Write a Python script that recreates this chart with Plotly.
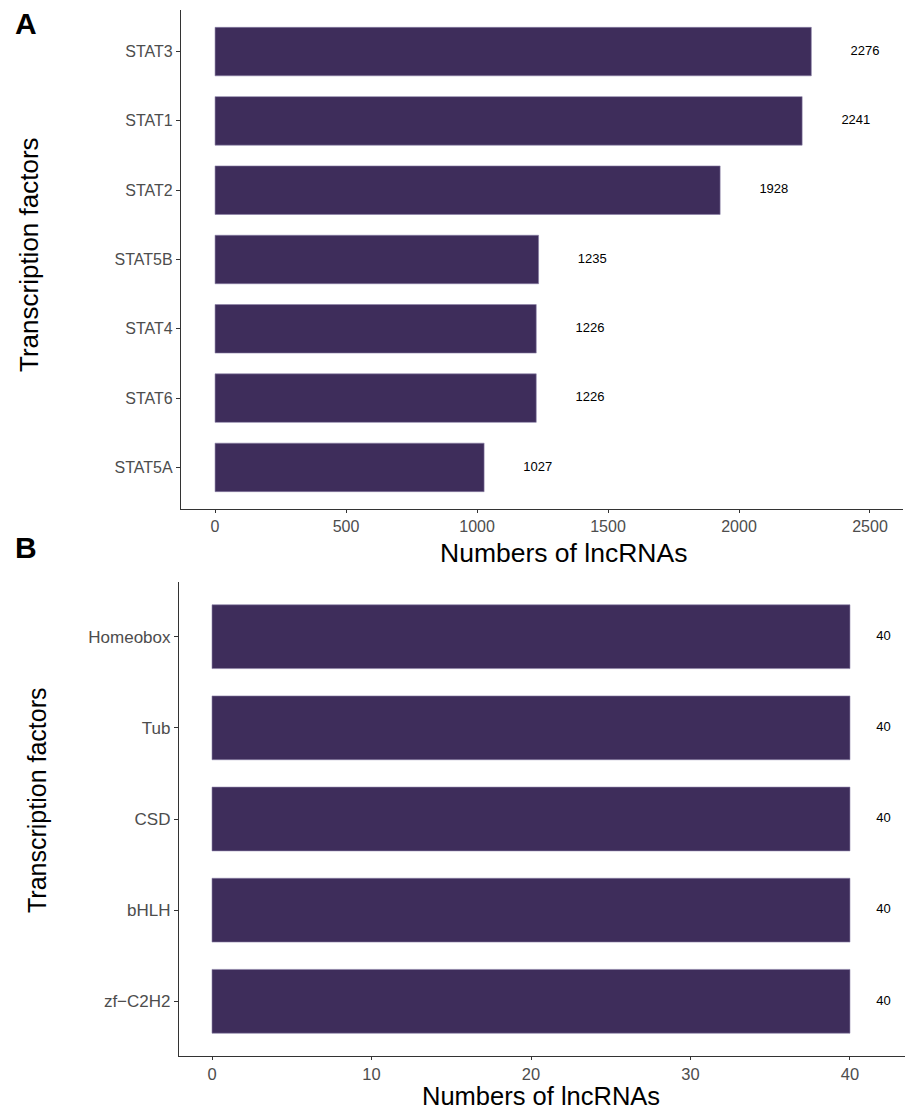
import plotly.graph_objects as go

# Data
stat_names = ["STAT3", "STAT1", "STAT2", "STAT5B", "STAT4", "STAT6", "STAT5A"]
stat_values = [2276, 2241, 1928, 1235, 1226, 1226, 1027]
fam_names = ["Homeobox", "Tub", "CSD", "bHLH", "zf\u2212C2H2"]
fam_values = [40, 40, 40, 40, 40]
top_ticks = [0, 500, 1000, 1500, 2000, 2500]
bot_ticks = [0, 10, 20, 30, 40]

W, H = 909, 1111
BAR = "#3e2d5b"
FONT = "Arial, Liberation Sans, sans-serif"
TICKC = "#4d4d4d"

def px_x(p):
    return p / W

def px_y(p):
    return 1 - p / H

fig = go.Figure()

fig.add_trace(go.Bar(
    x=stat_values, y=stat_names, orientation="h", width=0.7,
    marker=dict(color=BAR, line=dict(color="#8a7fa6", width=0.6)),
    xaxis="x", yaxis="y", showlegend=False, hoverinfo="skip"))
fig.add_trace(go.Scatter(
    x=[v + 205 for v in stat_values], y=stat_names, mode="text",
    text=[str(v) for v in stat_values],
    textfont=dict(family=FONT, size=13, color="black"),
    xaxis="x", yaxis="y", showlegend=False, hoverinfo="skip"))

fig.add_trace(go.Bar(
    x=fam_values, y=fam_names, orientation="h", width=0.7,
    marker=dict(color=BAR, line=dict(color="#8a7fa6", width=0.6)),
    xaxis="x2", yaxis="y2", showlegend=False, hoverinfo="skip"))
fig.add_trace(go.Scatter(
    x=[v + 2.1 for v in fam_values], y=fam_names, mode="text",
    text=[str(v) for v in fam_values],
    textfont=dict(family=FONT, size=13, color="black"),
    xaxis="x2", yaxis="y2", showlegend=False, hoverinfo="skip"))

def axis_common(fs, tl=4):
    return dict(showgrid=False, zeroline=False, showline=True,
                linecolor="#333333", linewidth=1.2, ticks="outside",
                ticklen=tl, tickcolor="#333333", tickwidth=1,
                tickfont=dict(family=FONT, size=fs, color=TICKC))

fig.update_layout(
    width=W, height=H,
    margin=dict(l=0, r=0, t=0, b=0),
    plot_bgcolor="white", paper_bgcolor="white",
    xaxis=dict(domain=[px_x(181), px_x(903)], range=[-130, 2626],
               tickvals=top_ticks, anchor="y", **axis_common(16, 3)),
    yaxis=dict(domain=[px_y(509), px_y(10)], range=[6.6, -0.6],
               categoryorder="array", categoryarray=stat_names,
               anchor="x", **axis_common(16)),
    xaxis2=dict(domain=[px_x(179), px_x(905)], range=[-2.07, 43.45],
                tickvals=bot_ticks, anchor="y2", **axis_common(16.5, 3)),
    yaxis2=dict(domain=[px_y(1056), px_y(582)], range=[4.6, -0.6],
                categoryorder="array", categoryarray=fam_names,
                anchor="x2", **axis_common(17)),
    bargap=0.3,
)

annots = [
    dict(text="<b>A</b>", x=px_x(26), y=px_y(24), size=30, angle=0, ya="middle"),
    dict(text="<b>B</b>", x=px_x(26), y=px_y(547), size=30, angle=0, ya="middle"),
    dict(text="Numbers of lncRNAs", x=px_x(563), y=px_y(553), size=26.5, angle=0, ya="middle"),
    dict(text="Numbers of lncRNAs", x=px_x(541), y=0.0, size=25.5, angle=0, ya="bottom"),
    dict(text="Transcription factors", x=px_x(29), y=px_y(255), size=26, angle=-90, ya="middle"),
    dict(text="Transcription factors", x=px_x(37), y=px_y(800), size=25, angle=-90, ya="middle"),
]
for a in annots:
    fig.add_annotation(text=a["text"], x=a["x"], y=a["y"], xref="paper", yref="paper",
                       showarrow=False, textangle=a["angle"], borderpad=0,
                       xanchor="center", yanchor=a["ya"],
                       font=dict(family=FONT, size=a["size"], color="black"))

fig.write_html("out.html", config={"displayModeBar": False})

# remove default body margin so the figure sits at the page origin
with open("out.html", "r", encoding="utf-8") as f:
    html = f.read()
html = html.replace("<head>", "<head><style>html,body{margin:0;padding:0;overflow:hidden}</style>", 1)
with open("out.html", "w", encoding="utf-8") as f:
    f.write(html)
